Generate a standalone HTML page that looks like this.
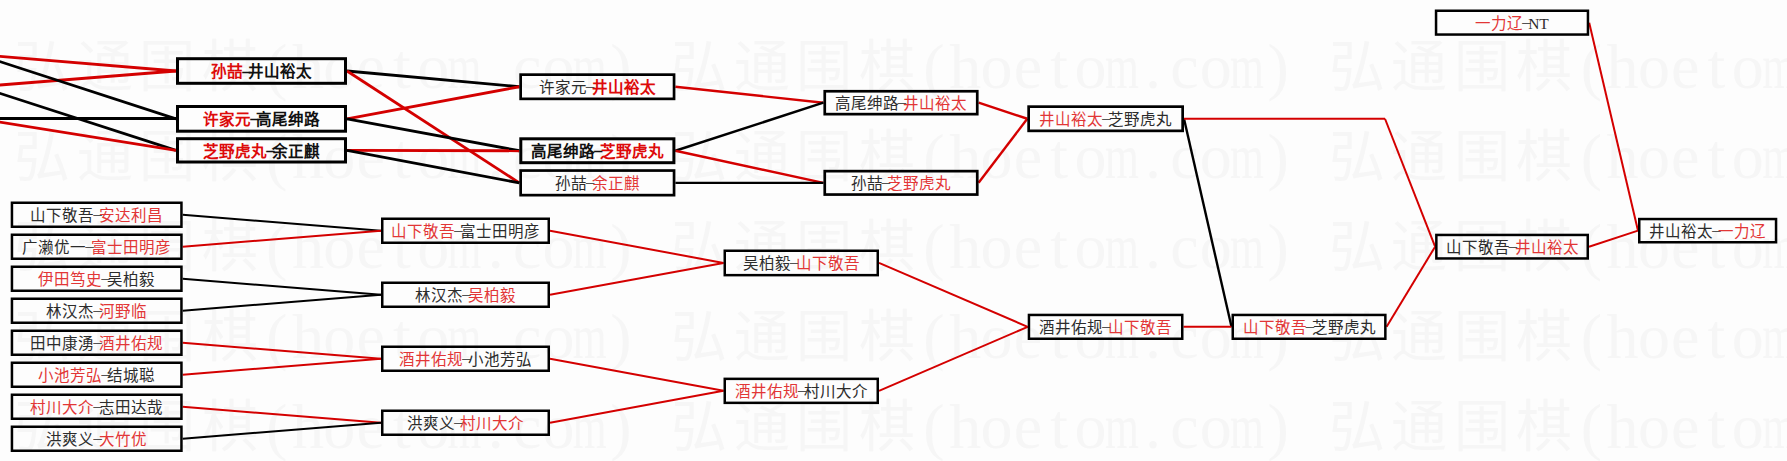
<!DOCTYPE html><html lang="zh-CN"><head><meta charset="utf-8"><style>html,body{margin:0;padding:0;background:#fff;width:1787px;height:461px;overflow:hidden}svg{display:block}</style></head><body>
<svg width="1787" height="461" viewBox="0 0 1787 461">
<rect width="1787" height="461" fill="#fdfdfd"/>
<g fill="#f6f6f6" font-family="Liberation Serif">
<text x="1356.5 1419.1 1481.7 1544.3" y="85.6" font-size="56" text-anchor="middle">弘通围棋</text>
<text x="1591.3 1622.6 1653.9 1685.2 1716.5 1747.8 1810.4 1841.7 1873.0 1935.6" y="87.6" font-size="64" text-anchor="middle">(hoeto.co)</text>
<text transform="translate(1779.1,87.6) scale(0.68,1)" x="0" y="0" font-size="64" text-anchor="middle">m</text>
<text transform="translate(1904.3,87.6) scale(0.68,1)" x="0" y="0" font-size="64" text-anchor="middle">m</text>
<text x="699.2 761.8 824.4 887.0" y="85.6" font-size="56" text-anchor="middle">弘通围棋</text>
<text x="934.0 965.2 996.6 1027.9 1059.2 1090.5 1153.0 1184.4 1215.7 1278.2" y="87.6" font-size="64" text-anchor="middle">(hoeto.co)</text>
<text transform="translate(1121.8,87.6) scale(0.68,1)" x="0" y="0" font-size="64" text-anchor="middle">m</text>
<text transform="translate(1247.0,87.6) scale(0.68,1)" x="0" y="0" font-size="64" text-anchor="middle">m</text>
<text x="41.9 104.5 167.1 229.7" y="85.6" font-size="56" text-anchor="middle">弘通围棋</text>
<text x="276.7 308.0 339.3 370.6 401.9 433.2 495.8 527.1 558.4 621.0" y="87.6" font-size="64" text-anchor="middle">(hoeto.co)</text>
<text transform="translate(464.5,87.6) scale(0.68,1)" x="0" y="0" font-size="64" text-anchor="middle">m</text>
<text transform="translate(589.7,87.6) scale(0.68,1)" x="0" y="0" font-size="64" text-anchor="middle">m</text>
<text x="1356.5 1419.1 1481.7 1544.3" y="175.7" font-size="56" text-anchor="middle">弘通围棋</text>
<text x="1591.3 1622.6 1653.9 1685.2 1716.5 1747.8 1810.4 1841.7 1873.0 1935.6" y="177.7" font-size="64" text-anchor="middle">(hoeto.co)</text>
<text transform="translate(1779.1,177.7) scale(0.68,1)" x="0" y="0" font-size="64" text-anchor="middle">m</text>
<text transform="translate(1904.3,177.7) scale(0.68,1)" x="0" y="0" font-size="64" text-anchor="middle">m</text>
<text x="699.2 761.8 824.4 887.0" y="175.7" font-size="56" text-anchor="middle">弘通围棋</text>
<text x="934.0 965.2 996.6 1027.9 1059.2 1090.5 1153.0 1184.4 1215.7 1278.2" y="177.7" font-size="64" text-anchor="middle">(hoeto.co)</text>
<text transform="translate(1121.8,177.7) scale(0.68,1)" x="0" y="0" font-size="64" text-anchor="middle">m</text>
<text transform="translate(1247.0,177.7) scale(0.68,1)" x="0" y="0" font-size="64" text-anchor="middle">m</text>
<text x="41.9 104.5 167.1 229.7" y="175.7" font-size="56" text-anchor="middle">弘通围棋</text>
<text x="276.7 308.0 339.3 370.6 401.9 433.2 495.8 527.1 558.4 621.0" y="177.7" font-size="64" text-anchor="middle">(hoeto.co)</text>
<text transform="translate(464.5,177.7) scale(0.68,1)" x="0" y="0" font-size="64" text-anchor="middle">m</text>
<text transform="translate(589.7,177.7) scale(0.68,1)" x="0" y="0" font-size="64" text-anchor="middle">m</text>
<text x="1356.5 1419.1 1481.7 1544.3" y="265.8" font-size="56" text-anchor="middle">弘通围棋</text>
<text x="1591.3 1622.6 1653.9 1685.2 1716.5 1747.8 1810.4 1841.7 1873.0 1935.6" y="267.8" font-size="64" text-anchor="middle">(hoeto.co)</text>
<text transform="translate(1779.1,267.8) scale(0.68,1)" x="0" y="0" font-size="64" text-anchor="middle">m</text>
<text transform="translate(1904.3,267.8) scale(0.68,1)" x="0" y="0" font-size="64" text-anchor="middle">m</text>
<text x="699.2 761.8 824.4 887.0" y="265.8" font-size="56" text-anchor="middle">弘通围棋</text>
<text x="934.0 965.2 996.6 1027.9 1059.2 1090.5 1153.0 1184.4 1215.7 1278.2" y="267.8" font-size="64" text-anchor="middle">(hoeto.co)</text>
<text transform="translate(1121.8,267.8) scale(0.68,1)" x="0" y="0" font-size="64" text-anchor="middle">m</text>
<text transform="translate(1247.0,267.8) scale(0.68,1)" x="0" y="0" font-size="64" text-anchor="middle">m</text>
<text x="41.9 104.5 167.1 229.7" y="265.8" font-size="56" text-anchor="middle">弘通围棋</text>
<text x="276.7 308.0 339.3 370.6 401.9 433.2 495.8 527.1 558.4 621.0" y="267.8" font-size="64" text-anchor="middle">(hoeto.co)</text>
<text transform="translate(464.5,267.8) scale(0.68,1)" x="0" y="0" font-size="64" text-anchor="middle">m</text>
<text transform="translate(589.7,267.8) scale(0.68,1)" x="0" y="0" font-size="64" text-anchor="middle">m</text>
<text x="1356.5 1419.1 1481.7 1544.3" y="355.9" font-size="56" text-anchor="middle">弘通围棋</text>
<text x="1591.3 1622.6 1653.9 1685.2 1716.5 1747.8 1810.4 1841.7 1873.0 1935.6" y="357.9" font-size="64" text-anchor="middle">(hoeto.co)</text>
<text transform="translate(1779.1,357.9) scale(0.68,1)" x="0" y="0" font-size="64" text-anchor="middle">m</text>
<text transform="translate(1904.3,357.9) scale(0.68,1)" x="0" y="0" font-size="64" text-anchor="middle">m</text>
<text x="699.2 761.8 824.4 887.0" y="355.9" font-size="56" text-anchor="middle">弘通围棋</text>
<text x="934.0 965.2 996.6 1027.9 1059.2 1090.5 1153.0 1184.4 1215.7 1278.2" y="357.9" font-size="64" text-anchor="middle">(hoeto.co)</text>
<text transform="translate(1121.8,357.9) scale(0.68,1)" x="0" y="0" font-size="64" text-anchor="middle">m</text>
<text transform="translate(1247.0,357.9) scale(0.68,1)" x="0" y="0" font-size="64" text-anchor="middle">m</text>
<text x="41.9 104.5 167.1 229.7" y="355.9" font-size="56" text-anchor="middle">弘通围棋</text>
<text x="276.7 308.0 339.3 370.6 401.9 433.2 495.8 527.1 558.4 621.0" y="357.9" font-size="64" text-anchor="middle">(hoeto.co)</text>
<text transform="translate(464.5,357.9) scale(0.68,1)" x="0" y="0" font-size="64" text-anchor="middle">m</text>
<text transform="translate(589.7,357.9) scale(0.68,1)" x="0" y="0" font-size="64" text-anchor="middle">m</text>
<text x="1356.5 1419.1 1481.7 1544.3" y="446.0" font-size="56" text-anchor="middle">弘通围棋</text>
<text x="1591.3 1622.6 1653.9 1685.2 1716.5 1747.8 1810.4 1841.7 1873.0 1935.6" y="448.0" font-size="64" text-anchor="middle">(hoeto.co)</text>
<text transform="translate(1779.1,448.0) scale(0.68,1)" x="0" y="0" font-size="64" text-anchor="middle">m</text>
<text transform="translate(1904.3,448.0) scale(0.68,1)" x="0" y="0" font-size="64" text-anchor="middle">m</text>
<text x="699.2 761.8 824.4 887.0" y="446.0" font-size="56" text-anchor="middle">弘通围棋</text>
<text x="934.0 965.2 996.6 1027.9 1059.2 1090.5 1153.0 1184.4 1215.7 1278.2" y="448.0" font-size="64" text-anchor="middle">(hoeto.co)</text>
<text transform="translate(1121.8,448.0) scale(0.68,1)" x="0" y="0" font-size="64" text-anchor="middle">m</text>
<text transform="translate(1247.0,448.0) scale(0.68,1)" x="0" y="0" font-size="64" text-anchor="middle">m</text>
<text x="41.9 104.5 167.1 229.7" y="446.0" font-size="56" text-anchor="middle">弘通围棋</text>
<text x="276.7 308.0 339.3 370.6 401.9 433.2 495.8 527.1 558.4 621.0" y="448.0" font-size="64" text-anchor="middle">(hoeto.co)</text>
<text transform="translate(464.5,448.0) scale(0.68,1)" x="0" y="0" font-size="64" text-anchor="middle">m</text>
<text transform="translate(589.7,448.0) scale(0.68,1)" x="0" y="0" font-size="64" text-anchor="middle">m</text>
</g>
<line x1="-200.00" y1="39.60" x2="176.00" y2="71.00" stroke="#d40000" stroke-width="2.8"/>
<line x1="-200.00" y1="100.91" x2="176.00" y2="71.00" stroke="#d40000" stroke-width="2.8"/>
<line x1="-200.00" y1="-3.46" x2="176.00" y2="118.85" stroke="#000000" stroke-width="2.8"/>
<line x1="-200.00" y1="118.50" x2="176.00" y2="118.50" stroke="#000000" stroke-width="2.8"/>
<line x1="-200.00" y1="28.68" x2="176.00" y2="150.35" stroke="#000000" stroke-width="2.8"/>
<line x1="-200.00" y1="90.00" x2="176.00" y2="150.35" stroke="#d40000" stroke-width="2.8"/>
<line x1="347.00" y1="71.00" x2="519.30" y2="86.75" stroke="#000000" stroke-width="2.8"/>
<line x1="347.00" y1="71.00" x2="519.30" y2="182.85" stroke="#d40000" stroke-width="2.8"/>
<line x1="347.00" y1="118.85" x2="519.30" y2="86.75" stroke="#d40000" stroke-width="2.8"/>
<line x1="347.00" y1="118.85" x2="519.30" y2="150.75" stroke="#000000" stroke-width="2.8"/>
<line x1="347.00" y1="150.35" x2="519.30" y2="150.75" stroke="#d40000" stroke-width="2.8"/>
<line x1="347.00" y1="150.35" x2="519.30" y2="182.85" stroke="#000000" stroke-width="2.8"/>
<line x1="675.40" y1="86.75" x2="823.40" y2="102.70" stroke="#d40000" stroke-width="2.4"/>
<line x1="675.40" y1="150.75" x2="823.40" y2="102.70" stroke="#000000" stroke-width="2.4"/>
<line x1="675.40" y1="150.75" x2="823.40" y2="182.85" stroke="#d40000" stroke-width="2.4"/>
<line x1="675.40" y1="182.85" x2="823.40" y2="182.85" stroke="#000000" stroke-width="2.4"/>
<line x1="978.60" y1="102.70" x2="1027.30" y2="118.75" stroke="#d40000" stroke-width="2.4"/>
<line x1="978.60" y1="182.85" x2="1027.30" y2="118.75" stroke="#d40000" stroke-width="2.4"/>
<line x1="1184.00" y1="118.75" x2="1231.50" y2="326.85" stroke="#000000" stroke-width="2.4"/>
<line x1="1184.00" y1="118.75" x2="1385.00" y2="118.75" stroke="#d40000" stroke-width="2.0"/>
<line x1="1385.00" y1="118.75" x2="1435.10" y2="246.70" stroke="#d40000" stroke-width="2.0"/>
<line x1="182.70" y1="214.75" x2="381.00" y2="230.75" stroke="#000000" stroke-width="2.0"/>
<line x1="182.70" y1="246.75" x2="381.00" y2="230.75" stroke="#d40000" stroke-width="2.0"/>
<line x1="182.70" y1="278.75" x2="381.00" y2="294.75" stroke="#000000" stroke-width="2.0"/>
<line x1="182.70" y1="310.75" x2="381.00" y2="294.75" stroke="#000000" stroke-width="2.0"/>
<line x1="182.70" y1="342.75" x2="381.00" y2="358.75" stroke="#d40000" stroke-width="2.0"/>
<line x1="182.70" y1="374.75" x2="381.00" y2="358.75" stroke="#d40000" stroke-width="2.0"/>
<line x1="182.70" y1="406.75" x2="381.00" y2="422.75" stroke="#d40000" stroke-width="2.0"/>
<line x1="182.70" y1="438.75" x2="381.00" y2="422.75" stroke="#000000" stroke-width="2.0"/>
<line x1="550.00" y1="230.75" x2="723.50" y2="262.95" stroke="#d40000" stroke-width="2.0"/>
<line x1="550.00" y1="294.75" x2="723.50" y2="262.95" stroke="#d40000" stroke-width="2.0"/>
<line x1="550.00" y1="358.75" x2="723.50" y2="390.85" stroke="#d40000" stroke-width="2.0"/>
<line x1="550.00" y1="422.75" x2="723.50" y2="390.85" stroke="#d40000" stroke-width="2.0"/>
<line x1="879.00" y1="262.95" x2="1027.70" y2="326.85" stroke="#d40000" stroke-width="2.0"/>
<line x1="879.00" y1="390.85" x2="1027.70" y2="326.85" stroke="#d40000" stroke-width="2.0"/>
<line x1="1183.50" y1="326.85" x2="1231.50" y2="326.85" stroke="#d40000" stroke-width="2.0"/>
<line x1="1386.60" y1="326.85" x2="1435.10" y2="246.70" stroke="#d40000" stroke-width="2.0"/>
<line x1="1589.00" y1="246.70" x2="1638.00" y2="230.65" stroke="#d40000" stroke-width="2.0"/>
<line x1="1589.20" y1="22.65" x2="1638.00" y2="230.65" stroke="#d40000" stroke-width="2.0"/>
<rect x="11.95" y="202.75" width="169.50" height="24.00" fill="none" stroke="#000" stroke-width="2.5"/>
<text x="96.70" y="221.05" text-anchor="middle" font-family="Liberation Serif" font-size="15.5"><tspan fill="#2c2c2c">山</tspan><tspan fill="#2c2c2c">下</tspan><tspan fill="#2c2c2c">敬</tspan><tspan fill="#2c2c2c">吾</tspan><tspan fill="#2c2c2c" dx="-0.6" dy="-1.8" stroke="#2c2c2c" stroke-width="0.45">–</tspan><tspan fill="#e23636" dx="-2.2" dy="1.8">安</tspan><tspan fill="#e23636">达</tspan><tspan fill="#e23636">利</tspan><tspan fill="#e23636">昌</tspan></text>
<rect x="11.95" y="234.75" width="169.50" height="24.00" fill="none" stroke="#000" stroke-width="2.5"/>
<text x="96.70" y="253.05" text-anchor="middle" font-family="Liberation Serif" font-size="15.5"><tspan fill="#2c2c2c">广</tspan><tspan fill="#2c2c2c">濑</tspan><tspan fill="#2c2c2c">优</tspan><tspan fill="#2c2c2c">一</tspan><tspan fill="#2c2c2c" dx="-0.6" dy="-1.8" stroke="#2c2c2c" stroke-width="0.45">–</tspan><tspan fill="#e23636" dx="-2.2" dy="1.8">富</tspan><tspan fill="#e23636">士</tspan><tspan fill="#e23636">田</tspan><tspan fill="#e23636">明</tspan><tspan fill="#e23636">彦</tspan></text>
<rect x="11.95" y="266.75" width="169.50" height="24.00" fill="none" stroke="#000" stroke-width="2.5"/>
<text x="96.70" y="285.05" text-anchor="middle" font-family="Liberation Serif" font-size="15.5"><tspan fill="#e23636">伊</tspan><tspan fill="#e23636">田</tspan><tspan fill="#e23636">笃</tspan><tspan fill="#e23636">史</tspan><tspan fill="#2c2c2c" dx="-0.6" dy="-1.8" stroke="#2c2c2c" stroke-width="0.45">–</tspan><tspan fill="#2c2c2c" dx="-2.2" dy="1.8">吴</tspan><tspan fill="#2c2c2c">柏</tspan><tspan fill="#2c2c2c">毅</tspan></text>
<rect x="11.95" y="298.75" width="169.50" height="24.00" fill="none" stroke="#000" stroke-width="2.5"/>
<text x="96.70" y="317.05" text-anchor="middle" font-family="Liberation Serif" font-size="15.5"><tspan fill="#2c2c2c">林</tspan><tspan fill="#2c2c2c">汉</tspan><tspan fill="#2c2c2c">杰</tspan><tspan fill="#2c2c2c" dx="-0.6" dy="-1.8" stroke="#2c2c2c" stroke-width="0.45">–</tspan><tspan fill="#e23636" dx="-2.2" dy="1.8">河</tspan><tspan fill="#e23636">野</tspan><tspan fill="#e23636">临</tspan></text>
<rect x="11.95" y="330.75" width="169.50" height="24.00" fill="none" stroke="#000" stroke-width="2.5"/>
<text x="96.70" y="349.05" text-anchor="middle" font-family="Liberation Serif" font-size="15.5"><tspan fill="#2c2c2c">田</tspan><tspan fill="#2c2c2c">中</tspan><tspan fill="#2c2c2c">康</tspan><tspan fill="#2c2c2c">湧</tspan><tspan fill="#2c2c2c" dx="-0.6" dy="-1.8" stroke="#2c2c2c" stroke-width="0.45">–</tspan><tspan fill="#e23636" dx="-2.2" dy="1.8">酒</tspan><tspan fill="#e23636">井</tspan><tspan fill="#e23636">佑</tspan><tspan fill="#e23636">规</tspan></text>
<rect x="11.95" y="362.75" width="169.50" height="24.00" fill="none" stroke="#000" stroke-width="2.5"/>
<text x="96.70" y="381.05" text-anchor="middle" font-family="Liberation Serif" font-size="15.5"><tspan fill="#e23636">小</tspan><tspan fill="#e23636">池</tspan><tspan fill="#e23636">芳</tspan><tspan fill="#e23636">弘</tspan><tspan fill="#2c2c2c" dx="-0.6" dy="-1.8" stroke="#2c2c2c" stroke-width="0.45">–</tspan><tspan fill="#2c2c2c" dx="-2.2" dy="1.8">结</tspan><tspan fill="#2c2c2c">城</tspan><tspan fill="#2c2c2c">聪</tspan></text>
<rect x="11.95" y="394.75" width="169.50" height="24.00" fill="none" stroke="#000" stroke-width="2.5"/>
<text x="96.70" y="413.05" text-anchor="middle" font-family="Liberation Serif" font-size="15.5"><tspan fill="#e23636">村</tspan><tspan fill="#e23636">川</tspan><tspan fill="#e23636">大</tspan><tspan fill="#e23636">介</tspan><tspan fill="#2c2c2c" dx="-0.6" dy="-1.8" stroke="#2c2c2c" stroke-width="0.45">–</tspan><tspan fill="#2c2c2c" dx="-2.2" dy="1.8">志</tspan><tspan fill="#2c2c2c">田</tspan><tspan fill="#2c2c2c">达</tspan><tspan fill="#2c2c2c">哉</tspan></text>
<rect x="11.95" y="426.75" width="169.50" height="24.00" fill="none" stroke="#000" stroke-width="2.5"/>
<text x="96.70" y="445.05" text-anchor="middle" font-family="Liberation Serif" font-size="15.5"><tspan fill="#2c2c2c">洪</tspan><tspan fill="#2c2c2c">爽</tspan><tspan fill="#2c2c2c">义</tspan><tspan fill="#2c2c2c" dx="-0.6" dy="-1.8" stroke="#2c2c2c" stroke-width="0.45">–</tspan><tspan fill="#e23636" dx="-2.2" dy="1.8">大</tspan><tspan fill="#e23636">竹</tspan><tspan fill="#e23636">优</tspan></text>
<rect x="382.25" y="218.75" width="166.50" height="24.00" fill="none" stroke="#000" stroke-width="2.5"/>
<text x="465.50" y="237.05" text-anchor="middle" font-family="Liberation Serif" font-size="15.5"><tspan fill="#e23636">山</tspan><tspan fill="#e23636">下</tspan><tspan fill="#e23636">敬</tspan><tspan fill="#e23636">吾</tspan><tspan fill="#2c2c2c" dx="-0.6" dy="-1.8" stroke="#2c2c2c" stroke-width="0.45">–</tspan><tspan fill="#2c2c2c" dx="-2.2" dy="1.8">富</tspan><tspan fill="#2c2c2c">士</tspan><tspan fill="#2c2c2c">田</tspan><tspan fill="#2c2c2c">明</tspan><tspan fill="#2c2c2c">彦</tspan></text>
<rect x="382.25" y="282.75" width="166.50" height="24.00" fill="none" stroke="#000" stroke-width="2.5"/>
<text x="465.50" y="301.05" text-anchor="middle" font-family="Liberation Serif" font-size="15.5"><tspan fill="#2c2c2c">林</tspan><tspan fill="#2c2c2c">汉</tspan><tspan fill="#2c2c2c">杰</tspan><tspan fill="#2c2c2c" dx="-0.6" dy="-1.8" stroke="#2c2c2c" stroke-width="0.45">–</tspan><tspan fill="#e23636" dx="-2.2" dy="1.8">吴</tspan><tspan fill="#e23636">柏</tspan><tspan fill="#e23636">毅</tspan></text>
<rect x="382.25" y="346.75" width="166.50" height="24.00" fill="none" stroke="#000" stroke-width="2.5"/>
<text x="465.50" y="365.05" text-anchor="middle" font-family="Liberation Serif" font-size="15.5"><tspan fill="#e23636">酒</tspan><tspan fill="#e23636">井</tspan><tspan fill="#e23636">佑</tspan><tspan fill="#e23636">规</tspan><tspan fill="#2c2c2c" dx="-0.6" dy="-1.8" stroke="#2c2c2c" stroke-width="0.45">–</tspan><tspan fill="#2c2c2c" dx="-2.2" dy="1.8">小</tspan><tspan fill="#2c2c2c">池</tspan><tspan fill="#2c2c2c">芳</tspan><tspan fill="#2c2c2c">弘</tspan></text>
<rect x="382.25" y="410.75" width="166.50" height="24.00" fill="none" stroke="#000" stroke-width="2.5"/>
<text x="465.50" y="429.05" text-anchor="middle" font-family="Liberation Serif" font-size="15.5"><tspan fill="#2c2c2c">洪</tspan><tspan fill="#2c2c2c">爽</tspan><tspan fill="#2c2c2c">义</tspan><tspan fill="#2c2c2c" dx="-0.6" dy="-1.8" stroke="#2c2c2c" stroke-width="0.45">–</tspan><tspan fill="#e23636" dx="-2.2" dy="1.8">村</tspan><tspan fill="#e23636">川</tspan><tspan fill="#e23636">大</tspan><tspan fill="#e23636">介</tspan></text>
<rect x="724.75" y="250.75" width="153.00" height="24.40" fill="none" stroke="#000" stroke-width="2.5"/>
<text x="801.25" y="269.25" text-anchor="middle" font-family="Liberation Serif" font-size="15.5"><tspan fill="#2c2c2c">吴</tspan><tspan fill="#2c2c2c">柏</tspan><tspan fill="#2c2c2c">毅</tspan><tspan fill="#2c2c2c" dx="-0.6" dy="-1.8" stroke="#2c2c2c" stroke-width="0.45">–</tspan><tspan fill="#e23636" dx="-2.2" dy="1.8">山</tspan><tspan fill="#e23636">下</tspan><tspan fill="#e23636">敬</tspan><tspan fill="#e23636">吾</tspan></text>
<rect x="724.75" y="378.85" width="153.00" height="24.00" fill="none" stroke="#000" stroke-width="2.5"/>
<text x="801.25" y="397.15" text-anchor="middle" font-family="Liberation Serif" font-size="15.5"><tspan fill="#e23636">酒</tspan><tspan fill="#e23636">井</tspan><tspan fill="#e23636">佑</tspan><tspan fill="#e23636">规</tspan><tspan fill="#2c2c2c" dx="-0.6" dy="-1.8" stroke="#2c2c2c" stroke-width="0.45">–</tspan><tspan fill="#2c2c2c" dx="-2.2" dy="1.8">村</tspan><tspan fill="#2c2c2c">川</tspan><tspan fill="#2c2c2c">大</tspan><tspan fill="#2c2c2c">介</tspan></text>
<rect x="1028.95" y="314.95" width="153.30" height="23.80" fill="none" stroke="#000" stroke-width="2.5"/>
<text x="1105.60" y="333.15" text-anchor="middle" font-family="Liberation Serif" font-size="15.5"><tspan fill="#2c2c2c">酒</tspan><tspan fill="#2c2c2c">井</tspan><tspan fill="#2c2c2c">佑</tspan><tspan fill="#2c2c2c">规</tspan><tspan fill="#2c2c2c" dx="-0.6" dy="-1.8" stroke="#2c2c2c" stroke-width="0.45">–</tspan><tspan fill="#e23636" dx="-2.2" dy="1.8">山</tspan><tspan fill="#e23636">下</tspan><tspan fill="#e23636">敬</tspan><tspan fill="#e23636">吾</tspan></text>
<rect x="1232.75" y="314.95" width="152.60" height="23.80" fill="none" stroke="#000" stroke-width="2.5"/>
<text x="1309.05" y="333.15" text-anchor="middle" font-family="Liberation Serif" font-size="15.5"><tspan fill="#e23636">山</tspan><tspan fill="#e23636">下</tspan><tspan fill="#e23636">敬</tspan><tspan fill="#e23636">吾</tspan><tspan fill="#2c2c2c" dx="-0.6" dy="-1.8" stroke="#2c2c2c" stroke-width="0.45">–</tspan><tspan fill="#2c2c2c" dx="-2.2" dy="1.8">芝</tspan><tspan fill="#2c2c2c">野</tspan><tspan fill="#2c2c2c">虎</tspan><tspan fill="#2c2c2c">丸</tspan></text>
<rect x="1436.35" y="234.95" width="151.40" height="23.50" fill="none" stroke="#000" stroke-width="2.5"/>
<text x="1512.05" y="253.00" text-anchor="middle" font-family="Liberation Serif" font-size="15.5"><tspan fill="#2c2c2c">山</tspan><tspan fill="#2c2c2c">下</tspan><tspan fill="#2c2c2c">敬</tspan><tspan fill="#2c2c2c">吾</tspan><tspan fill="#2c2c2c" dx="-0.6" dy="-1.8" stroke="#2c2c2c" stroke-width="0.45">–</tspan><tspan fill="#e23636" dx="-2.2" dy="1.8">井</tspan><tspan fill="#e23636">山</tspan><tspan fill="#e23636">裕</tspan><tspan fill="#e23636">太</tspan></text>
<rect x="1639.25" y="219.05" width="136.80" height="23.20" fill="none" stroke="#000" stroke-width="2.5"/>
<text x="1707.65" y="236.95" text-anchor="middle" font-family="Liberation Serif" font-size="15.5"><tspan fill="#2c2c2c">井</tspan><tspan fill="#2c2c2c">山</tspan><tspan fill="#2c2c2c">裕</tspan><tspan fill="#2c2c2c">太</tspan><tspan fill="#2c2c2c" dx="-0.6" dy="-1.8" stroke="#2c2c2c" stroke-width="0.45">–</tspan><tspan fill="#e23636" dx="-2.2" dy="1.8">一</tspan><tspan fill="#e23636">力</tspan><tspan fill="#e23636">辽</tspan></text>
<rect x="1436.05" y="10.75" width="151.90" height="23.80" fill="none" stroke="#000" stroke-width="2.5"/>
<text x="1512.00" y="28.95" text-anchor="middle" font-family="Liberation Serif" font-size="15.5"><tspan fill="#e23636">一</tspan><tspan fill="#e23636">力</tspan><tspan fill="#e23636">辽</tspan><tspan fill="#2c2c2c" dx="-0.6" dy="-1.8" stroke="#2c2c2c" stroke-width="0.45">–</tspan><tspan fill="#2c2c2c" dx="-2.2" dy="1.8">N</tspan><tspan fill="#2c2c2c">T</tspan></text>
<rect x="177.50" y="58.70" width="168.00" height="24.60" fill="none" stroke="#000" stroke-width="3"/>
<text x="261.50" y="77.30" text-anchor="middle" font-family="Liberation Serif" font-size="15.5"><tspan fill="#dd0a0a" font-weight="bold">孙</tspan><tspan fill="#dd0a0a" font-weight="bold">喆</tspan><tspan fill="#111111" font-weight="bold" dx="-0.6" dy="-1.8" stroke="#111111" stroke-width="0.45">–</tspan><tspan fill="#111111" font-weight="bold" dx="-2.2" dy="1.8">井</tspan><tspan fill="#111111" font-weight="bold">山</tspan><tspan fill="#111111" font-weight="bold">裕</tspan><tspan fill="#111111" font-weight="bold">太</tspan></text>
<rect x="177.50" y="106.50" width="168.00" height="24.70" fill="none" stroke="#000" stroke-width="3"/>
<text x="261.50" y="125.15" text-anchor="middle" font-family="Liberation Serif" font-size="15.5"><tspan fill="#dd0a0a" font-weight="bold">许</tspan><tspan fill="#dd0a0a" font-weight="bold">家</tspan><tspan fill="#dd0a0a" font-weight="bold">元</tspan><tspan fill="#111111" font-weight="bold" dx="-0.6" dy="-1.8" stroke="#111111" stroke-width="0.45">–</tspan><tspan fill="#111111" font-weight="bold" dx="-2.2" dy="1.8">高</tspan><tspan fill="#111111" font-weight="bold">尾</tspan><tspan fill="#111111" font-weight="bold">绅</tspan><tspan fill="#111111" font-weight="bold">路</tspan></text>
<rect x="177.50" y="138.70" width="168.00" height="23.30" fill="none" stroke="#000" stroke-width="3"/>
<text x="261.50" y="156.65" text-anchor="middle" font-family="Liberation Serif" font-size="15.5"><tspan fill="#dd0a0a" font-weight="bold">芝</tspan><tspan fill="#dd0a0a" font-weight="bold">野</tspan><tspan fill="#dd0a0a" font-weight="bold">虎</tspan><tspan fill="#dd0a0a" font-weight="bold">丸</tspan><tspan fill="#111111" font-weight="bold" dx="-0.6" dy="-1.8" stroke="#111111" stroke-width="0.45">–</tspan><tspan fill="#111111" font-weight="bold" dx="-2.2" dy="1.8">余</tspan><tspan fill="#111111" font-weight="bold">正</tspan><tspan fill="#111111" font-weight="bold">麒</tspan></text>
<rect x="520.65" y="74.65" width="153.40" height="24.20" fill="none" stroke="#000" stroke-width="2.7"/>
<text x="597.35" y="93.05" text-anchor="middle" font-family="Liberation Serif" font-size="15.5"><tspan fill="#2c2c2c">许</tspan><tspan fill="#2c2c2c">家</tspan><tspan fill="#2c2c2c">元</tspan><tspan fill="#2c2c2c" dx="-0.6" dy="-1.8" stroke="#2c2c2c" stroke-width="0.45">–</tspan><tspan fill="#dd0a0a" font-weight="bold" dx="-2.2" dy="1.8">井</tspan><tspan fill="#dd0a0a" font-weight="bold">山</tspan><tspan fill="#dd0a0a" font-weight="bold">裕</tspan><tspan fill="#dd0a0a" font-weight="bold">太</tspan></text>
<rect x="520.80" y="138.80" width="153.10" height="23.90" fill="none" stroke="#000" stroke-width="3"/>
<text x="597.35" y="157.05" text-anchor="middle" font-family="Liberation Serif" font-size="15.5"><tspan fill="#111111" font-weight="bold">高</tspan><tspan fill="#111111" font-weight="bold">尾</tspan><tspan fill="#111111" font-weight="bold">绅</tspan><tspan fill="#111111" font-weight="bold">路</tspan><tspan fill="#111111" font-weight="bold" dx="-0.6" dy="-1.8" stroke="#111111" stroke-width="0.45">–</tspan><tspan fill="#dd0a0a" font-weight="bold" dx="-2.2" dy="1.8">芝</tspan><tspan fill="#dd0a0a" font-weight="bold">野</tspan><tspan fill="#dd0a0a" font-weight="bold">虎</tspan><tspan fill="#dd0a0a" font-weight="bold">丸</tspan></text>
<rect x="520.65" y="170.55" width="153.40" height="24.60" fill="none" stroke="#000" stroke-width="2.7"/>
<text x="597.35" y="189.15" text-anchor="middle" font-family="Liberation Serif" font-size="15.5"><tspan fill="#2c2c2c">孙</tspan><tspan fill="#2c2c2c">喆</tspan><tspan fill="#2c2c2c" dx="-0.6" dy="-1.8" stroke="#2c2c2c" stroke-width="0.45">–</tspan><tspan fill="#e23636" dx="-2.2" dy="1.8">余</tspan><tspan fill="#e23636">正</tspan><tspan fill="#e23636">麒</tspan></text>
<rect x="824.75" y="91.25" width="152.50" height="22.90" fill="none" stroke="#000" stroke-width="2.7"/>
<text x="901.00" y="109.00" text-anchor="middle" font-family="Liberation Serif" font-size="15.5"><tspan fill="#2c2c2c">高</tspan><tspan fill="#2c2c2c">尾</tspan><tspan fill="#2c2c2c">绅</tspan><tspan fill="#2c2c2c">路</tspan><tspan fill="#2c2c2c" dx="-0.6" dy="-1.8" stroke="#2c2c2c" stroke-width="0.45">–</tspan><tspan fill="#e23636" dx="-2.2" dy="1.8">井</tspan><tspan fill="#e23636">山</tspan><tspan fill="#e23636">裕</tspan><tspan fill="#e23636">太</tspan></text>
<rect x="824.75" y="171.15" width="152.50" height="23.40" fill="none" stroke="#000" stroke-width="2.7"/>
<text x="901.00" y="189.15" text-anchor="middle" font-family="Liberation Serif" font-size="15.5"><tspan fill="#2c2c2c">孙</tspan><tspan fill="#2c2c2c">喆</tspan><tspan fill="#2c2c2c" dx="-0.6" dy="-1.8" stroke="#2c2c2c" stroke-width="0.45">–</tspan><tspan fill="#e23636" dx="-2.2" dy="1.8">芝</tspan><tspan fill="#e23636">野</tspan><tspan fill="#e23636">虎</tspan><tspan fill="#e23636">丸</tspan></text>
<rect x="1028.65" y="106.65" width="154.00" height="24.20" fill="none" stroke="#000" stroke-width="2.7"/>
<text x="1105.65" y="125.05" text-anchor="middle" font-family="Liberation Serif" font-size="15.5"><tspan fill="#e23636">井</tspan><tspan fill="#e23636">山</tspan><tspan fill="#e23636">裕</tspan><tspan fill="#e23636">太</tspan><tspan fill="#2c2c2c" dx="-0.6" dy="-1.8" stroke="#2c2c2c" stroke-width="0.45">–</tspan><tspan fill="#2c2c2c" dx="-2.2" dy="1.8">芝</tspan><tspan fill="#2c2c2c">野</tspan><tspan fill="#2c2c2c">虎</tspan><tspan fill="#2c2c2c">丸</tspan></text>
</svg></body></html>
